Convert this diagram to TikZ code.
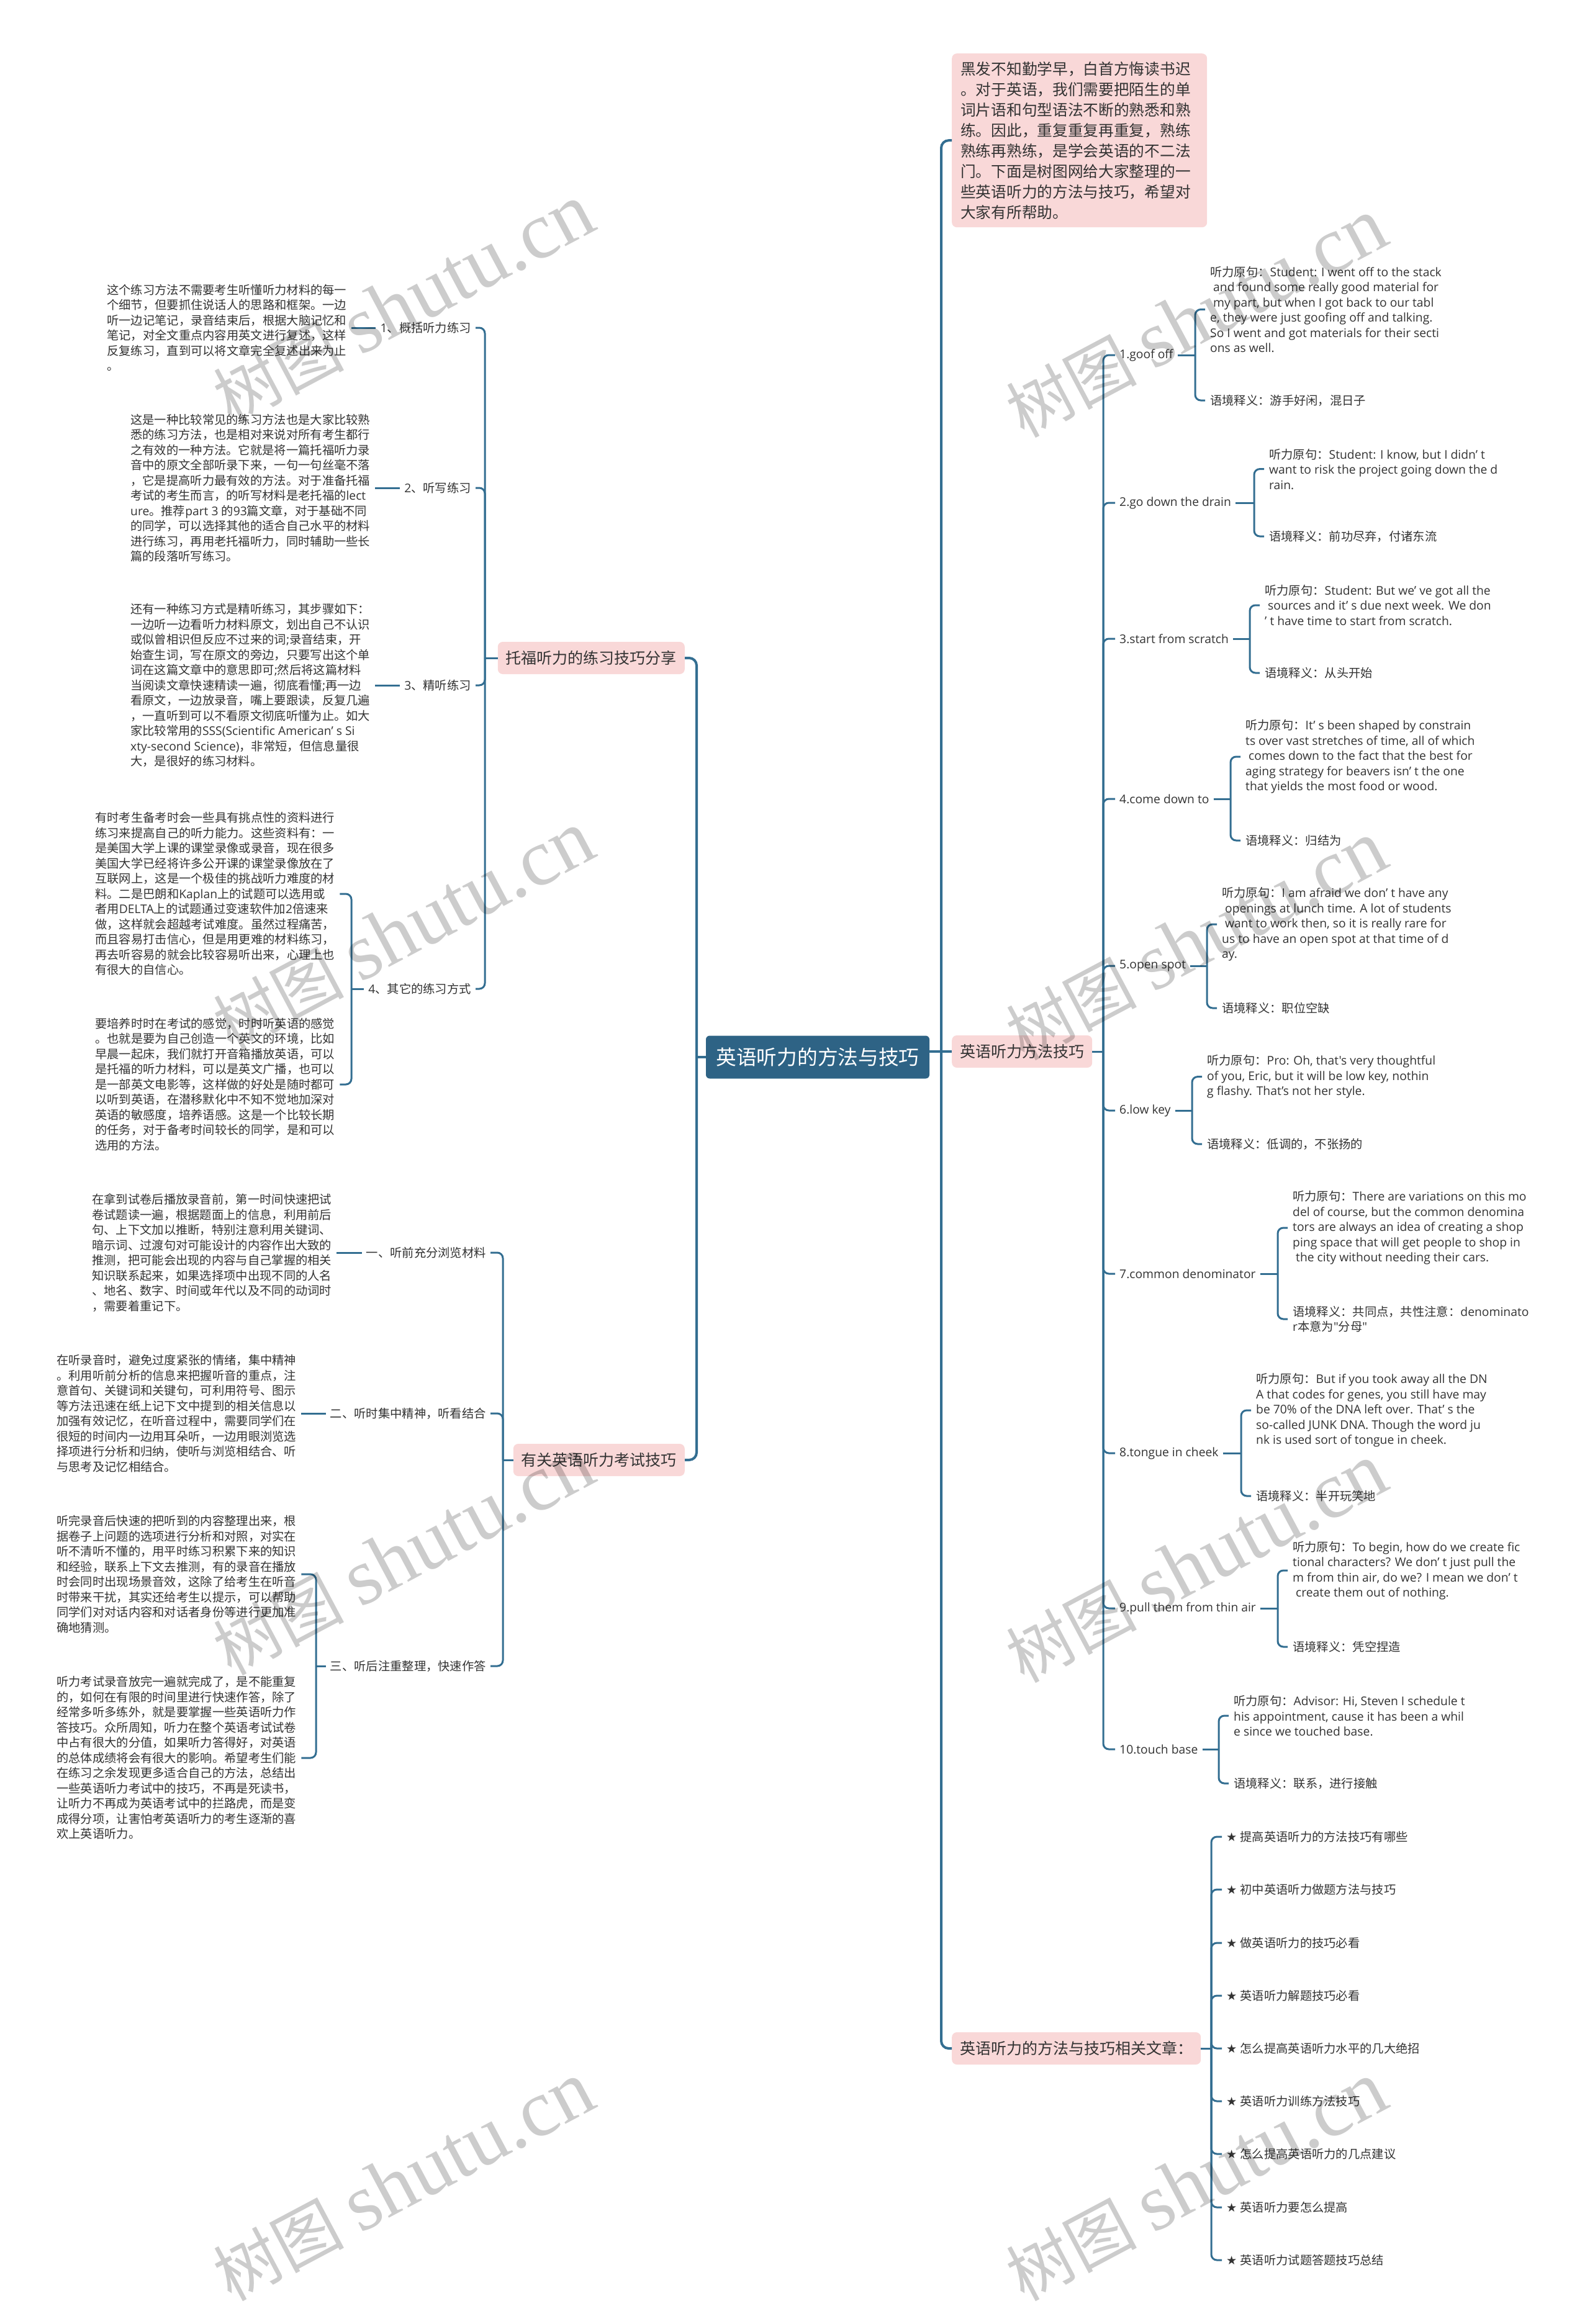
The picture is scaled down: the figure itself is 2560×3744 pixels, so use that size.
\documentclass[tikz,border=0pt]{standalone}
\usepackage{fontspec}
\setmainfont{Open Sans}
\newfontfamily\cjkfont{Noto Sans CJK SC}
\newfontfamily\latfont{Open Sans}
\newfontfamily\symfont{DejaVu Sans}
\newfontfamily\wmserif{Liberation Serif}
\XeTeXinterchartokenstate=1
\newXeTeXintercharclass\CJKcls
\newcount\cjkcnt
\cjkcnt="2E80
\loop\XeTeXcharclass\cjkcnt=\CJKcls\relax
\ifnum\cjkcnt<"9FFF \advance\cjkcnt by 1 \repeat
\cjkcnt="FF00
\loop\XeTeXcharclass\cjkcnt=\CJKcls\relax
\ifnum\cjkcnt<"FFEF \advance\cjkcnt by 1 \repeat
\XeTeXinterchartoks 0 \CJKcls = {\cjkfont}
\XeTeXinterchartoks 4095 \CJKcls = {\cjkfont}
\XeTeXinterchartoks \CJKcls 0 = {\latfont}
\XeTeXinterchartoks \CJKcls 4095 = {\latfont}
\definecolor{lc}{HTML}{336E91}
\definecolor{cbox}{HTML}{2E6385}
\definecolor{pk}{HTML}{F9D8D8}
\definecolor{tc}{HTML}{333333}
\newcommand\lsp{\hspace*{5pt}}
\newcommand\phr[8]{%
  \node[lab,anchor=west] (#1) at (1796,#2) {#3};
  \node[blk,anchor=west] (#1b) at (#4-8,#5) {#6};
  \node[blk,anchor=west] (#1c) at (#4-8,#7) {#8};
  \coordinate (#1k) at (#4-24,#2);
  \draw[conn] (rt) |- (#1.west);
  \draw[conn] (#1.east) -- (#1k);
  \draw[conn] (#1k) |- (#1b.west);
  \draw[conn] (#1k) |- (#1c.west);
}
\begin{document}
\begin{tikzpicture}[x=1pt,y=-1pt,
  conn/.style={draw=lc, line width=3pt, rounded corners=9pt},
  mconn/.style={draw=lc, line width=4pt, rounded corners=12pt},
  central/.style={fill=cbox, text=white, rounded corners=6pt, minimum width=360pt, minimum height=69pt, inner sep=0pt, font=\fontsize{32.7}{40}\selectfont},
  pinkbox/.style={fill=pk, text=tc, rounded corners=8pt, inner xsep=13pt, inner ysep=0pt, minimum height=52pt, font=\fontsize{25}{33}\selectfont},
  lab/.style={text=tc, inner xsep=7pt, inner ysep=2pt, font=\fontsize{19.3}{24.5}\selectfont},
  blk/.style={text=tc, align=left, inner xsep=8pt, inner ysep=0pt, font=\fontsize{19.3}{24.5}\selectfont},
  wm/.style={text=black, text opacity=0.2, inner sep=0pt, font=\fontsize{105}{110}\selectfont}]
\fill[white] (0,0) rectangle (2560,3744);
\useasboundingbox (0,0) rectangle (2560,3744);

% central
\node[central] (c) at (1317,1703) {英语听力的方法与技巧};

% right level 1
\node[pinkbox, anchor=north west, align=left, text width=383pt, inner xsep=14pt, inner ysep=13pt, font=\fontsize{24.7}{33}\selectfont] (intro) at (1533,86) {黑发不知勤学早，白首方悔读书迟\\。对于英语，我们需要把陌生的单\\词片语和句型语法不断的熟悉和熟\\练。因此，重复重复再重复，熟练\\熟练再熟练，是学会英语的不二法\\门。下面是树图网给大家整理的一\\些英语听力的方法与技巧，希望对\\大家有所帮助。};
\node[pinkbox, anchor=west] (fa) at (1533,1694) {英语听力方法技巧};
\node[pinkbox, anchor=west] (xg) at (1533,3300) {英语听力的方法与技巧相关文章：};
\coordinate (rj) at (1516,1694);
\draw[mconn] (c.east |- fa.west) -- (fa.west);
\draw[mconn] (rj) |- (intro.west);
\draw[mconn] (rj) |- (xg.west);

% left level 1
\node[pinkbox, anchor=east] (tf) at (1103,1060) {托福听力的练习技巧分享};
\node[pinkbox, anchor=east] (yg) at (1103,2352) {有关英语听力考试技巧};
\coordinate (lj) at (1122,1703);
\draw[mconn] (c.west) -- (lj);
\draw[mconn] (lj) |- (tf.east);
\draw[mconn] (lj) |- (yg.east);

% phrases
\coordinate (rt) at (1777,1694);
\draw[conn] (fa.east) -- (rt);
\phr{a1}{572}{1.goof off}{1949}{498.5}{听力原句：Student: I went off to the stack\\\lsp and found some really good material for\\\lsp my part, but when I got back to our tabl\\e, they were just goofing off and talking.\\So I went and got materials for their secti\\ons as well.}{645}{语境释义：游手好闲，混日子}
\phr{a2}{810}{2.go down the drain}{2044}{755.6}{听力原句：Student: I know, but I didn’ t\\want to risk the project going down the d\\rain.}{864}{语境释义：前功尽弃，付诸东流}
\phr{a3}{1029}{3.start from scratch}{2037}{975}{听力原句：Student: But we’ ve got all the\\\lsp sources and it’ s due next week. We don\\’ t have time to start from scratch.}{1084}{语境释义：从头开始}
\phr{a4}{1287}{4.come down to}{2006}{1219}{听力原句：It’ s been shaped by constrain\\ts over vast stretches of time, all of which\\\lsp comes down to the fact that the best for\\aging strategy for beavers isn’ t the one\\that yields the most food or wood.}{1354}{语境释义：归结为}
\phr{a5}{1556}{5.open spot}{1968}{1489}{听力原句：I am afraid we don’ t have any\\\lsp openings at lunch time. A lot of students\\\lsp want to work then, so it is really rare for\\us to have an open spot at that time of d\\ay.}{1624}{语境释义：职位空缺}
\phr{a6}{1789}{6.low key}{1944}{1734.6}{听力原句：Pro: Oh, that's very thoughtful\\of you, Eric, but it will be low key, nothin\\g flashy. That's not her style.}{1843}{语境释义：低调的，不张扬的}
\phr{a7}{2052}{7.common denominator}{2082}{1978}{听力原句：There are variations on this mo\\del of course, but the common denomina\\tors are always an idea of creating a shop\\ping space that will get people to shop in\\\lsp the city without needing their cars.}{2125}{语境释义：共同点，共性注意：denominato\\r本意为"分母"}
\phr{a8}{2341}{8.tongue in cheek}{2023}{2272}{听力原句：But if you took away all the DN\\A that codes for genes, you still have may\\be 70\% of the DNA left over. That’ s the\\so-called JUNK DNA. Though the word ju\\nk is used sort of tongue in cheek.}{2410}{语境释义：半开玩笑地}
\phr{a9}{2591}{9.pull them from thin air}{2082}{2530}{听力原句：To begin, how do we create fic\\tional characters? We don’ t just pull the\\m from thin air, do we? I mean we don’ t\\\lsp create them out of nothing.}{2653}{语境释义：凭空捏造}
\phr{a10}{2818}{10.touch base}{1987}{2764}{听力原句：Advisor: Hi, Steven I schedule t\\his appointment, cause it has been a whil\\e since we touched base.}{2873}{语境释义：联系，进行接触}

% related articles
\coordinate (rx) at (1951,3300);
\draw[conn] (xg.east) -- (rx);
\node[lab,anchor=west] (r1) at (1968,2959) {{\symfont ★} 提高英语听力的方法技巧有哪些};
\node[lab,anchor=west] (r2) at (1968,3044) {{\symfont ★} 初中英语听力做题方法与技巧};
\node[lab,anchor=west] (r3) at (1968,3130) {{\symfont ★} 做英语听力的技巧必看};
\node[lab,anchor=west] (r4) at (1968,3215) {{\symfont ★} 英语听力解题技巧必看};
\node[lab,anchor=west] (r5) at (1968,3300) {{\symfont ★} 怎么提高英语听力水平的几大绝招};
\node[lab,anchor=west] (r6) at (1968,3385) {{\symfont ★} 英语听力训练方法技巧};
\node[lab,anchor=west] (r7) at (1968,3470) {{\symfont ★} 怎么提高英语听力的几点建议};
\node[lab,anchor=west] (r8) at (1968,3556) {{\symfont ★} 英语听力要怎么提高};
\node[lab,anchor=west] (r9) at (1968,3641) {{\symfont ★} 英语听力试题答题技巧总结};
\foreach \r in {r1,r2,r3,r4,r5,r6,r7,r8,r9} \draw[conn] (rx) |- (\r.west);

% TOEFL group
\coordinate (lt) at (781,1060);
\draw[conn] (tf.west) -- (lt);
\node[lab,anchor=east] (L1) at (766,528) {1、概括听力练习};
\node[lab,anchor=east] (L2) at (766,786) {2、听写练习};
\node[lab,anchor=east] (L3) at (766,1104) {3、精听练习};
\node[lab,anchor=east] (L4) at (766,1593) {4、其它的练习方式};
\foreach \l in {L1,L2,L3,L4} \draw[conn] (lt) |- (\l.east);
\node[blk,anchor=west] (P1) at (164,528) {这个练习方法不需要考生听懂听力材料的每一\\个细节，但要抓住说话人的思路和框架。一边\\听一边记笔记，录音结束后，根据大脑记忆和\\笔记，对全文重点内容用英文进行复述，这样\\反复练习，直到可以将文章完全复述出来为止\\。};
\node[blk,anchor=west] (P2) at (202,786) {这是一种比较常见的练习方法也是大家比较熟\\悉的练习方法，也是相对来说对所有考生都行\\之有效的一种方法。它就是将一篇托福听力录\\音中的原文全部听录下来，一句一句丝毫不落\\，它是提高听力最有效的方法。对于准备托福\\考试的考生而言，的听写材料是老托福的lect\\ure。推荐part 3 的93篇文章，对于基础不同\\的同学，可以选择其他的适合自己水平的材料\\进行练习，再用老托福听力，同时辅助一些长\\篇的段落听写练习。};
\node[blk,anchor=west] (P3) at (202,1104) {还有一种练习方式是精听练习，其步骤如下：\\一边听一边看听力材料原文，划出自己不认识\\或似曾相识但反应不过来的词;录音结束，开\\始查生词，写在原文的旁边，只要写出这个单\\词在这篇文章中的意思即可;然后将这篇材料\\当阅读文章快速精读一遍，彻底看懂;再一边\\看原文，一边放录音，嘴上要跟读，反复几遍\\，一直听到可以不看原文彻底听懂为止。如大\\家比较常用的SSS(Scientific American’ s Si\\xty-second Science)，非常短，但信息量很\\大，是很好的练习材料。};
\node[blk,anchor=west] (P4a) at (145,1440) {有时考生备考时会一些具有挑点性的资料进行\\练习来提高自己的听力能力。这些资料有：一\\是美国大学上课的课堂录像或录音，现在很多\\美国大学已经将许多公开课的课堂录像放在了\\互联网上，这是一个极佳的挑战听力难度的材\\料。二是巴朗和Kaplan上的试题可以选用或\\者用DELTA上的试题通过变速软件加2倍速来\\做，这样就会超越考试难度。虽然过程痛苦，\\而且容易打击信心，但是用更难的材料练习，\\再去听容易的就会比较容易听出来，心理上也\\有很大的自信心。};
\node[blk,anchor=west] (P4b) at (145,1747) {要培养时时在考试的感觉，时时听英语的感觉\\。也就是要为自己创造一个英文的环境，比如\\早晨一起床，我们就打开音箱播放英语，可以\\是托福的听力材料，可以是英文广播，也可以\\是一部英文电影等，这样做的好处是随时都可\\以听到英语，在潜移默化中不知不觉地加深对\\英语的敏感度，培养语感。这是一个比较长期\\的任务，对于备考时间较长的同学，是和可以\\选用的方法。};
\draw[conn] (L1.west) -- (P1.east);
\draw[conn] (L2.west) -- (P2.east);
\draw[conn] (L3.west) -- (P3.east);
\coordinate (L4k) at (566,1593);
\draw[conn] (L4.west) -- (L4k);
\draw[conn] (L4k) |- (P4a.east);
\draw[conn] (L4k) |- (P4b.east);

% exam group
\coordinate (lg) at (810,2352);
\draw[conn] (yg.west) -- (lg);
\node[lab,anchor=east] (M1) at (790,2018) {一、听前充分浏览材料};
\node[lab,anchor=east] (M2) at (790,2277) {二、听时集中精神，听看结合};
\node[lab,anchor=east] (M3) at (790,2684) {三、听后注重整理，快速作答};
\foreach \m in {M1,M2,M3} \draw[conn] (lg) |- (\m.east);
\node[blk,anchor=west] (Q1) at (140,2018) {在拿到试卷后播放录音前，第一时间快速把试\\卷试题读一遍，根据题面上的信息，利用前后\\句、上下文加以推断，特别注意利用关键词、\\暗示词、过渡句对可能设计的内容作出大致的\\推测，把可能会出现的内容与自己掌握的相关\\知识联系起来，如果选择项中出现不同的人名\\、地名、数字、时间或年代以及不同的动词时\\，需要着重记下。};
\node[blk,anchor=west] (Q2) at (83,2277) {在听录音时，避免过度紧张的情绪，集中精神\\。利用听前分析的信息来把握听音的重点，注\\意首句、关键词和关键句，可利用符号、图示\\等方法迅速在纸上记下文中提到的相关信息以\\加强有效记忆，在听音过程中，需要同学们在\\很短的时间内一边用耳朵听，一边用眼浏览选\\择项进行分析和归纳，使听与浏览相结合、听\\与思考及记忆相结合。};
\node[blk,anchor=west] (Q3a) at (83,2536) {听完录音后快速的把听到的内容整理出来，根\\据卷子上问题的选项进行分析和对照，对实在\\听不清听不懂的，用平时练习积累下来的知识\\和经验，联系上下文去推测，有的录音在播放\\时会同时出现场景音效，这除了给考生在听音\\时带来干扰，其实还给考生以提示，可以帮助\\同学们对对话内容和对话者身份等进行更加准\\确地猜测。};
\node[blk,anchor=west] (Q3b) at (83,2832) {听力考试录音放完一遍就完成了，是不能重复\\的，如何在有限的时间里进行快速作答，除了\\经常多听多练外，就是要掌握一些英语听力作\\答技巧。众所周知，听力在整个英语考试试卷\\中占有很大的分值，如果听力答得好，对英语\\的总体成绩将会有很大的影响。希望考生们能\\在练习之余发现更多适合自己的方法，总结出\\一些英语听力考试中的技巧，不再是死读书，\\让听力不再成为英语考试中的拦路虎，而是变\\成得分项，让害怕考英语听力的考生逐渐的喜\\欢上英语听力。};
\draw[conn] (M1.west) -- (Q1.east);
\draw[conn] (M2.west) -- (Q2.east);
\coordinate (M3k) at (509,2684);
\draw[conn] (M3.west) -- (M3k);
\draw[conn] (M3k) |- (Q3a.east);
\draw[conn] (M3k) |- (Q3b.east);

% watermarks
\foreach \wx/\wy [count=\i] in {650/490, 650/1500, 650/2507, 650/3515, 1927/513, 1927/1516, 1927/2519, 1927/3515}
  \node[wm, rotate=28] (wm\i) at (\wx,\wy) {树图\hspace{25pt}{\wmserif\fontsize{130}{130}\selectfont shutu.cn}};
\end{tikzpicture}
\end{document}
